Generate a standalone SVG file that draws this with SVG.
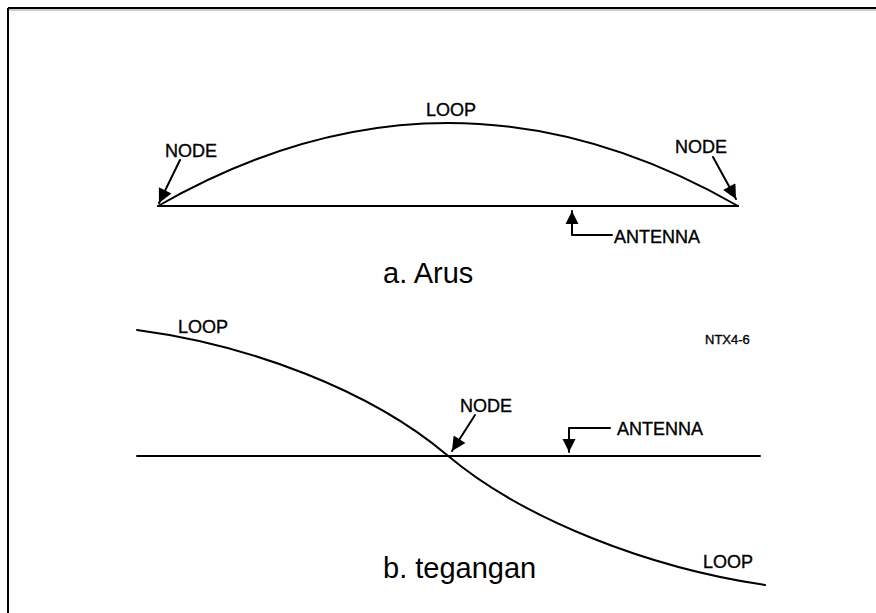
<svg xmlns="http://www.w3.org/2000/svg" width="876" height="613" viewBox="0 0 876 613">
<style>
.ln{fill:none;stroke:#000;stroke-width:2;stroke-linecap:round;stroke-linejoin:round}
.lbl{font-family:"Liberation Sans",Arial,sans-serif;font-size:18px;fill:#000;stroke:#000;stroke-width:0.35}
.cap{font-family:"Liberation Sans",Arial,sans-serif;font-size:29px;fill:#000}
</style>
<defs>
<marker id="ah" viewBox="0 0 10 10" refX="10" refY="5" markerWidth="17" markerHeight="14" markerUnits="userSpaceOnUse" orient="auto">
<path d="M0,0 L10,5 L0,10 z" fill="#000"/>
</marker>
<marker id="ah2" viewBox="0 0 10 10" refX="10" refY="5" markerWidth="13" markerHeight="18" markerUnits="userSpaceOnUse" orient="auto">
<path d="M0,0 L10,5 L0,10 z" fill="#000"/>
</marker>
</defs>
<rect width="876" height="613" fill="#fff"/>
<g id="frame">
<line x1="8" y1="8" x2="876" y2="8" stroke="#000" stroke-width="2"/>
<line x1="8" y1="8" x2="8" y2="613" stroke="#000" stroke-width="2"/>
<line x1="9" y1="10" x2="876" y2="10" stroke="#999" stroke-width="1"/>
</g>
<g id="panel-a">
<g id="a-antenna"><line class="ln" x1="158" y1="206" x2="738" y2="206"/></g>
<g id="a-loop"><path class="ln" d="M158,206 Q448,40 738,206"/></g>
<g id="a-labels">
<text class="lbl" x="451" y="116" text-anchor="middle">LOOP</text>
<text class="lbl" x="165" y="157">NODE</text>
<text class="lbl" x="675" y="153">NODE</text>
<text class="lbl" x="614" y="243">ANTENNA</text>
<text class="cap" x="383" y="283">a. Arus</text>
</g>
</g>
<g id="panel-b">
<g id="b-antenna"><line class="ln" x1="137" y1="456" x2="760" y2="456"/></g>
<g id="b-wave"><path class="ln" d="M137,330 C250,345 370,390 447,455 C524,520 650,568 765,585"/></g>
<g id="b-labels">
<text class="lbl" x="178" y="333">LOOP</text>
<text class="lbl" x="460" y="412">NODE</text>
<text class="lbl" x="617" y="435">ANTENNA</text>
<text class="lbl" x="705" y="344" style="font-size:13px">NTX4-6</text>
<text class="lbl" x="703" y="568">LOOP</text>
<text class="cap" x="383" y="578">b. tegangan</text>
</g>
</g>
<g id="connectors">
<line class="ln" x1="180" y1="160" x2="159" y2="203" marker-end="url(#ah)"/>
<line class="ln" x1="713" y1="157" x2="736" y2="199" marker-end="url(#ah)"/>
<path class="ln" d="M612,235 L572,235 L572,211" marker-end="url(#ah2)"/>
<line class="ln" x1="475" y1="415" x2="452" y2="451" marker-end="url(#ah)"/>
<path class="ln" d="M610,428 L569,428 L569,452" marker-end="url(#ah2)"/>
</g>
</svg>
